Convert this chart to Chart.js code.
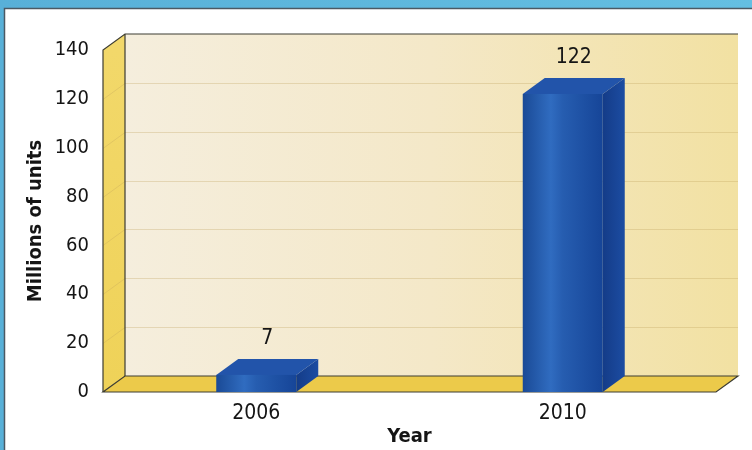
<!DOCTYPE html>
<html>
<head>
<meta charset="utf-8">
<script src="https://cdn.jsdelivr.net/npm/chart.js@4.4.0/dist/chart.umd.min.js"></script>
<style>
  html, body { margin: 0; padding: 0; background: #fff; }
  #wrap { width: 752px; height: 450px; }
</style>
</head>
<body>
<div id="wrap"><canvas id="grafico" width="752" height="450"></canvas></div>
<script>
// datos
const years = ['2006', '2010'];
const units = [7, 122];
const yTicks = [0, 20, 40, 60, 80, 100, 120, 140];

const FONT = "'Liberation Sans Narrow', 'DejaVu Sans Condensed', 'Liberation Sans', sans-serif";
const DX = 22, DY = -16; // profundidad de la caja 3D

// marco azul y borde fino
const marco = {
  id: 'marco',
  beforeDraw(chart) {
    const ctx = chart.ctx;
    ctx.save();
    ctx.fillStyle = '#fff';
    ctx.fillRect(0, 0, chart.width, chart.height);
    const g = ctx.createLinearGradient(0, 0, chart.width, 0);
    g.addColorStop(0, '#58b0d8');
    g.addColorStop(1, '#64bfe2');
    ctx.fillStyle = g;
    ctx.fillRect(0, 0, chart.width, 8);
    ctx.fillRect(0, 0, 4, chart.height);
    ctx.strokeStyle = '#4b5963';
    ctx.lineWidth = 1.5;
    ctx.beginPath();
    ctx.moveTo(4.5, chart.height);
    ctx.lineTo(4.5, 8.5);
    ctx.lineTo(chart.width, 8.5);
    ctx.stroke();
    ctx.restore();
  }
};

function poly(ctx, pts) {
  ctx.beginPath();
  ctx.moveTo(pts[0][0], pts[0][1]);
  for (let i = 1; i < pts.length; i++) ctx.lineTo(pts[i][0], pts[i][1]);
  ctx.closePath();
}

// paredes y piso
const caja3d = {
  id: 'caja3d',
  beforeDatasetsDraw(chart) {
    const { ctx, chartArea: a, scales: { y } } = chart;
    const l = a.left, r = a.right, t = a.top, b = a.bottom;
    ctx.save();

    // pared del fondo
    const gw = ctx.createLinearGradient(l + DX, 0, r + DX, 0);
    gw.addColorStop(0, '#f5eedd');
    gw.addColorStop(0.5, '#f4e8c8');
    gw.addColorStop(1, '#f2e1a2');
    ctx.fillStyle = gw;
    ctx.fillRect(l + DX, t + DY, r - l, b - t);

    // pared izquierda
    const gl = ctx.createLinearGradient(0, t, 0, b);
    gl.addColorStop(0, '#f2d86a');
    gl.addColorStop(1, '#efd258');
    ctx.fillStyle = gl;
    poly(ctx, [[l, t], [l + DX, t + DY], [l + DX, b + DY], [l, b]]);
    ctx.fill();

    // lineas de la grilla
    ctx.strokeStyle = 'rgba(190,160,90,0.3)';
    ctx.lineWidth = 1;
    yTicks.forEach(v => {
      if (v === yTicks[0] || v === yTicks[yTicks.length - 1]) return;
      const py = Math.round(y.getPixelForValue(v)) + 0.5;
      ctx.beginPath();
      ctx.moveTo(l, py);
      ctx.lineTo(l + DX, py + DY);
      ctx.lineTo(r + DX, py + DY);
      ctx.stroke();
    });

    // piso
    ctx.fillStyle = '#ecca4a';
    poly(ctx, [[l, b], [l + DX, b + DY], [r + DX, b + DY], [r, b]]);
    ctx.fill();

    // contornos
    ctx.strokeStyle = '#3d3d33';
    ctx.lineWidth = 1.2;
    poly(ctx, [[l, b], [r, b], [r + DX, b + DY], [l + DX, b + DY]]);
    ctx.stroke();
    ctx.beginPath();
    ctx.moveTo(l, b);
    ctx.lineTo(l, t);
    ctx.lineTo(l + DX, t + DY);
    ctx.lineTo(r + DX, t + DY);
    ctx.moveTo(l + DX, t + DY);
    ctx.lineTo(l + DX, b + DY);
    ctx.stroke();
    ctx.restore();
  },

  // barras en 3D con sus etiquetas
  afterDatasetsDraw(chart) {
    const ctx = chart.ctx;
    ctx.save();
    chart.getDatasetMeta(0).data.forEach((bar, i) => {
      const { x, y: top, base, width } = bar.getProps(['x', 'y', 'base', 'width'], true);
      const x0 = x - width / 2, x1 = x + width / 2;

      // lado
      const gs = ctx.createLinearGradient(x1, 0, x1 + DX, 0);
      gs.addColorStop(0, '#143c88');
      gs.addColorStop(1, '#1c4ca2');
      ctx.fillStyle = gs;
      poly(ctx, [[x1, top], [x1 + DX, top + DY], [x1 + DX, base + DY], [x1, base]]);
      ctx.fill();

      // tapa
      ctx.fillStyle = '#2254aa';
      poly(ctx, [[x0, top], [x0 + DX, top + DY], [x1 + DX, top + DY], [x1, top]]);
      ctx.fill();

      // frente
      const gf = ctx.createLinearGradient(x0, 0, x1, 0);
      gf.addColorStop(0, '#1a4a96');
      gf.addColorStop(0.35, '#306cc0');
      gf.addColorStop(0.5, '#265db0');
      gf.addColorStop(1, '#164598');
      ctx.fillStyle = gf;
      ctx.fillRect(x0, top, width, base - top);

      // etiqueta del valor
      ctx.fillStyle = '#151515';
      ctx.font = '21px ' + FONT;
      ctx.textAlign = 'center';
      ctx.textBaseline = 'middle';
      ctx.fillText(String(units[i]), x + DX / 2, top + DY - 20);
    });
    ctx.restore();
  }
};

new Chart(document.getElementById('grafico'), {
  type: 'bar',
  data: {
    labels: years,
    datasets: [{
      data: units,
      backgroundColor: 'rgba(0,0,0,0)',
      categoryPercentage: 0.5,
      barPercentage: 0.522
    }]
  },
  options: {
    responsive: false,
    animation: false,
    layout: { padding: { top: 50, right: 36, left: 0, bottom: 0 } },
    plugins: {
      legend: { display: false },
      tooltip: { enabled: false }
    },
    scales: {
      x: {
        grid: { display: false, drawTicks: false },
        border: { display: false },
        ticks: { color: '#151515', padding: 9, font: { family: FONT, size: 21 } },
        title: {
          display: true,
          text: 'Year',
          color: '#151515',
          font: { family: FONT, size: 20, weight: 'bold' },
          padding: { top: 0, bottom: 1 }
        },
        afterFit(s) { s.height = 58; }
      },
      y: {
        min: 0,
        max: 140,
        grid: { display: false, drawTicks: false },
        border: { display: false },
        ticks: { color: '#151515', padding: 14, font: { family: FONT, size: 20 } },
        afterBuildTicks(s) { s.ticks = yTicks.map(v => ({ value: v })); },
        title: {
          display: true,
          text: 'Millions of units',
          color: '#151515',
          font: { family: FONT, size: 20, weight: 'bold' },
          padding: { top: 24, bottom: 0 }
        },
        afterFit(s) { s.width = 103; }
      }
    }
  },
  plugins: [marco, caja3d]
});
</script>
</body>
</html>
